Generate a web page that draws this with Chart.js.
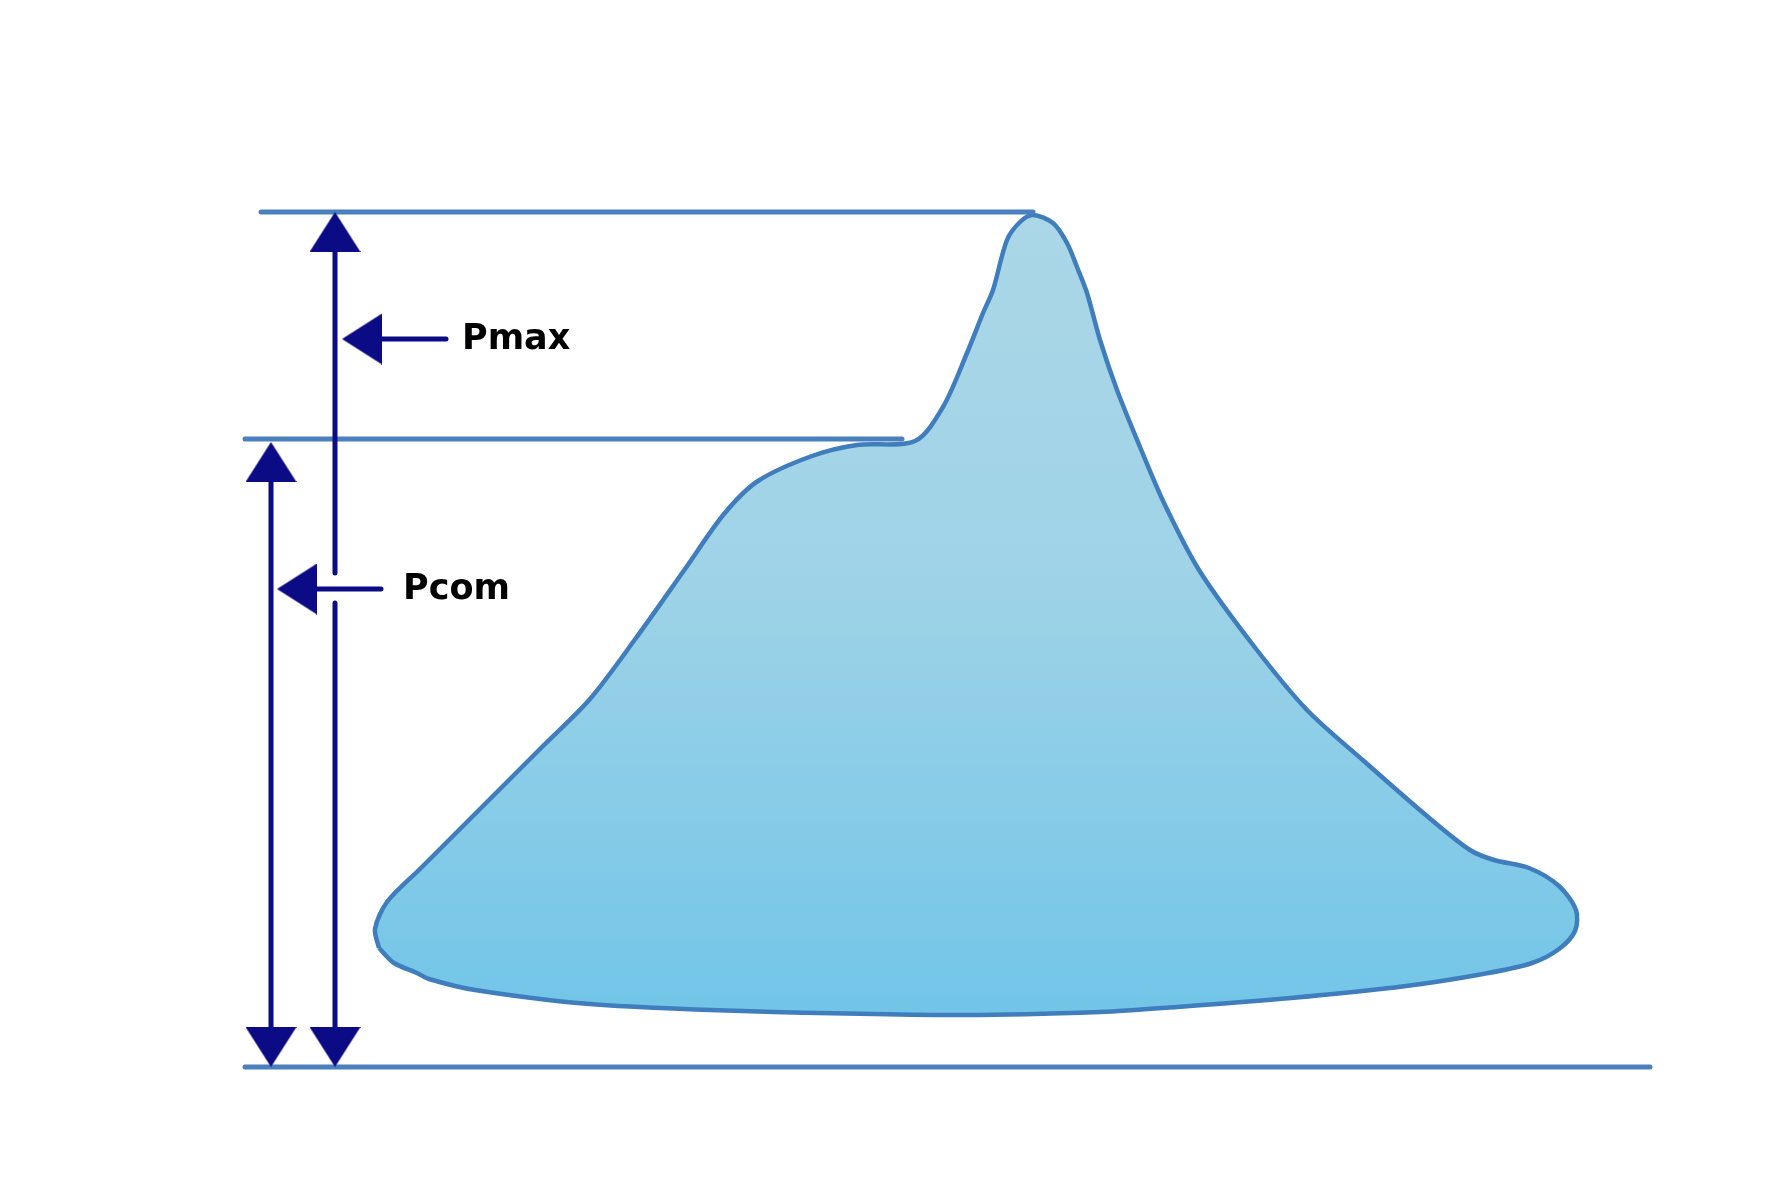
<!DOCTYPE html>
<html>
<head>
<meta charset="utf-8">
<script src="https://cdn.jsdelivr.net/npm/chart.js@4/dist/chart.umd.min.js"></script>
<style>
  html, body { margin: 0; padding: 0; background: #ffffff; }
  canvas { display: block; }
</style>
</head>
<body>
<canvas id="c" width="1776" height="1200"></canvas>
<script>
// ---- Data (diagram units: x across, y down) ----
const LEVEL_MAX = 212;    // Pmax reference level
const LEVEL_COM = 439;    // Pcom reference level
const LEVEL_BASE = 1067;  // base level

// horizontal reference lines: [xStart, xEnd]
const LINE_MAX_X = [261, 1033];
const LINE_COM_X = [245, 902];
const LINE_BASE_X = [245, 1650];

// pressure profile outline (closed)
const OUTLINE_X = [379, 375, 387, 421, 475, 544, 590, 636, 685, 724, 758, 812, 857, 915,
  943, 967, 983, 993, 1007, 1020, 1033, 1053, 1067, 1077, 1087, 1100, 1117, 1140, 1164,
  1199, 1253, 1307, 1365, 1427, 1470, 1494, 1529, 1559, 1576, 1575, 1559, 1532, 1483,
  1406, 1291, 1177, 1100, 960, 743, 590, 475, 429, 417, 394, 379];
const OUTLINE_Y = [948, 929, 902, 868, 814, 745, 699, 638, 569, 514, 481, 456, 445, 441,
  407, 353, 313, 290, 240, 222, 215, 223, 243, 267, 293, 340, 390, 447, 503,
  570, 645, 710, 762, 816, 850, 860, 868, 886, 910, 931, 949, 963, 974,
  986, 998, 1007, 1012, 1015, 1011, 1004, 990, 979, 973, 963, 948];

// dimension arrows
const ARROW_COM_X = 271;          // Pcom dimension (base -> Pcom level)
const ARROW_MAX_X = 335;          // Pmax dimension (base -> Pmax level)
const ARROW_MAX_GAP = [573, 603]; // break in the Pmax shaft
const POINTER_Y = [339, 589];     // Pmax, Pcom pointer heights
const POINTER_X = [[342, 446], [277, 381]]; // [tip, tail]
const LABELS = ['Pmax', 'Pcom'];
const LABEL_X = [462, 403];

// ---- styles ----
const LINE_BLUE = '#4a80bd';
const OUTLINE_BLUE = '#3f7dbd';
const NAVY = '#0b0b86';
const HEAD_W = 51, HEAD_H = 40;

function makeHead() {
  const cv = document.createElement('canvas');
  cv.width = HEAD_W; cv.height = HEAD_H;
  const g = cv.getContext('2d');
  g.fillStyle = NAVY;
  g.beginPath();
  g.moveTo(HEAD_W / 2, 0);
  g.lineTo(HEAD_W, HEAD_H);
  g.lineTo(0, HEAD_H);
  g.closePath();
  g.fill();
  return cv;
}
const head = makeHead();
const HALF = HEAD_H / 2;

// arrowhead points (tip positions offset to centre of the head image)
const heads = [
  {x: ARROW_MAX_X, y: LEVEL_MAX + HALF, r: 0},
  {x: ARROW_COM_X, y: LEVEL_COM + 3 + HALF, r: 0},
  {x: ARROW_COM_X, y: LEVEL_BASE - HALF, r: 180},
  {x: ARROW_MAX_X, y: LEVEL_BASE - HALF, r: 180},
  {x: POINTER_X[0][0] + HALF, y: POINTER_Y[0], r: 270},
  {x: POINTER_X[1][0] + HALF, y: POINTER_Y[1], r: 270}
];

const outline = OUTLINE_X.map((x, i) => ({x, y: OUTLINE_Y[i]}));

function seg(x0, y0, x1, y1, color, width) {
  return {
    data: [{x: x0, y: y0}, {x: x1, y: y1}],
    showLine: true, borderColor: color, borderWidth: width,
    borderCapStyle: 'round', pointRadius: 0, fill: false, clip: false
  };
}

const datasets = [
  {
    data: heads.map(h => ({x: h.x, y: h.y})),
    pointStyle: head,
    rotation: heads.map(h => h.r),
    pointRadius: 10, showLine: false, clip: false
  },
  seg(ARROW_COM_X, LEVEL_COM + 30, ARROW_COM_X, LEVEL_BASE - 30, NAVY, 5),
  seg(ARROW_MAX_X, LEVEL_MAX + 30, ARROW_MAX_X, ARROW_MAX_GAP[0], NAVY, 5),
  seg(ARROW_MAX_X, ARROW_MAX_GAP[1], ARROW_MAX_X, LEVEL_BASE - 30, NAVY, 5),
  seg(POINTER_X[0][0] + 30, POINTER_Y[0], POINTER_X[0][1], POINTER_Y[0], NAVY, 5),
  seg(POINTER_X[1][0] + 30, POINTER_Y[1], POINTER_X[1][1], POINTER_Y[1], NAVY, 5),
  seg(LINE_MAX_X[0], LEVEL_MAX, LINE_MAX_X[1], LEVEL_MAX, LINE_BLUE, 5),
  seg(LINE_COM_X[0], LEVEL_COM, LINE_COM_X[1], LEVEL_COM, LINE_BLUE, 5),
  seg(LINE_BASE_X[0], LEVEL_BASE, LINE_BASE_X[1], LEVEL_BASE, LINE_BLUE, 5),
  {
    data: outline,
    showLine: true,
    tension: 0.3,
    borderColor: OUTLINE_BLUE,
    borderWidth: 4.5,
    borderJoinStyle: 'round',
    pointRadius: 0,
    fill: 'shape',
    clip: false,
    backgroundColor: (ctx) => {
      const chart = ctx.chart;
      if (!chart.chartArea) return '#8ccde6';
      const ys = chart.scales.y;
      const top = ys.getPixelForValue(Math.min(...OUTLINE_Y));
      const bot = ys.getPixelForValue(Math.max(...OUTLINE_Y));
      const g = chart.ctx.createLinearGradient(0, top, 0, bot);
      g.addColorStop(0, '#abd7e7');
      g.addColorStop(0.45, '#9fd3e7');
      g.addColorStop(1, '#72c5e8');
      return g;
    }
  }
];

const labelPlugin = {
  id: 'labels',
  afterDatasetsDraw(chart) {
    const c = chart.ctx;
    const xs = chart.scales.x, ys = chart.scales.y;
    c.save();
    c.fillStyle = '#000000';
    c.font = 'bold 35px "DejaVu Sans", sans-serif';
    c.textBaseline = 'middle';
    c.textAlign = 'left';
    LABELS.forEach((t, i) => {
      c.fillText(t, xs.getPixelForValue(LABEL_X[i]), ys.getPixelForValue(POINTER_Y[i]) + 1);
    });
    c.restore();
  }
};

new Chart(document.getElementById('c'), {
  type: 'scatter',
  data: {datasets},
  options: {
    responsive: false,
    animation: false,
    devicePixelRatio: 1,
    layout: {padding: 0, autoPadding: false},
    plugins: {legend: {display: false}, tooltip: {enabled: false}},
    events: [],
    scales: {
      x: {type: 'linear', min: 0, max: 1776, display: false},
      y: {type: 'linear', min: 0, max: 1200, reverse: true, display: false}
    }
  },
  plugins: [labelPlugin]
});
</script>
</body>
</html>
